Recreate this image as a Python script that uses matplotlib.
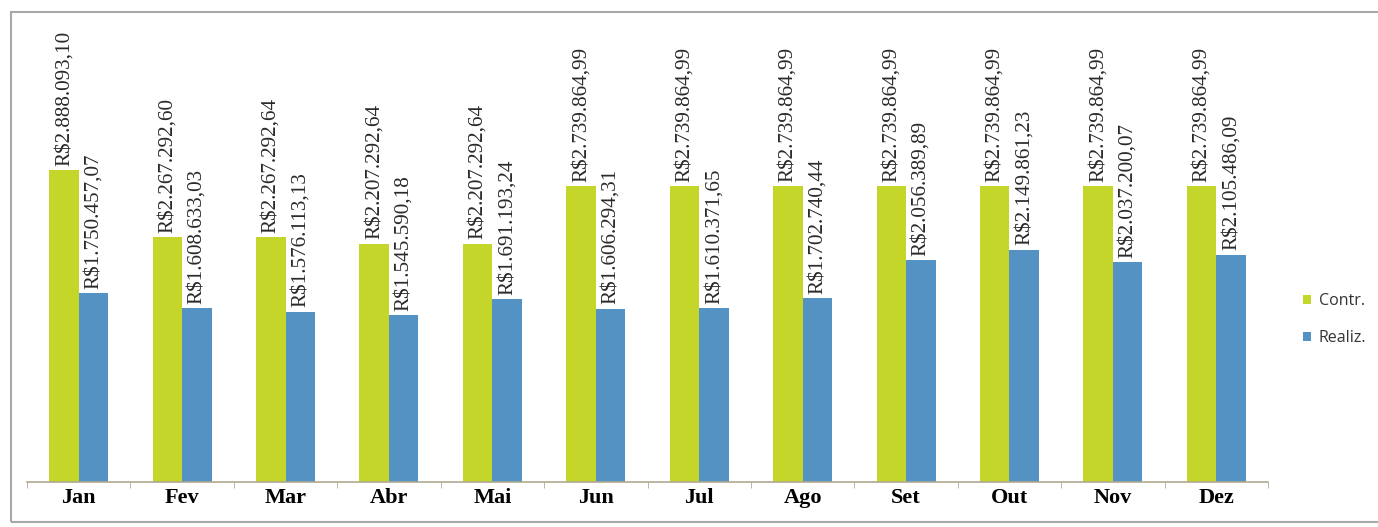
import matplotlib.pyplot as plt
from matplotlib.patches import Rectangle
import numpy as np

meses = ['Jan', 'Fev', 'Mar', 'Abr', 'Mai', 'Jun', 'Jul', 'Ago', 'Set', 'Out', 'Nov', 'Dez']
contr = [2888093.10, 2267292.60, 2267292.64, 2207292.64, 2207292.64, 2739864.99,
         2739864.99, 2739864.99, 2739864.99, 2739864.99, 2739864.99, 2739864.99]
realiz = [1750457.07, 1608633.03, 1576113.13, 1545590.18, 1691193.24, 1606294.31,
          1610371.65, 1702740.44, 2056389.89, 2149861.23, 2037200.07, 2105486.09]


def brl(v):
  s = f'{v:,.2f}'
  s = s.replace(',', 'X').replace('.', ',').replace('X', '.')
  return 'R$' + s


fig = plt.figure(figsize=(13.78, 5.27), dpi=100)
fig.patches.append(Rectangle((11 / 1378, 5 / 527), 1.0, 510 / 527, transform=fig.transFigure,
                             fill=False, edgecolor='#a8a8a8', linewidth=1.5))

ax = fig.add_axes([27 / 1378, 45 / 527, 1241 / 1378, 462 / 527])
x = np.arange(len(meses))
w = 0.285
verde = '#c5d62b'
azul = '#5592c4'
b1 = ax.bar(x - w / 2, contr, w, color=verde, label='Contr.')
b2 = ax.bar(x + w / 2, realiz, w, color=azul, label='Realiz.')

for rects, vals in ((b1, contr), (b2, realiz)):
  for r, v in zip(rects, vals):
    ax.text(r.get_x() + r.get_width() / 2, v + 40000, brl(v), rotation=90,
            ha='center', va='bottom', family='Liberation Serif', fontsize=15.2, color='#2a2a2a')

ax.set_xlim(-0.5, len(meses) - 0.5)
ax.set_ylim(0, 462 / 108 * 1e6)
ax.set_xticks(x)
ax.set_xticklabels(meses, family='Liberation Serif', fontweight='bold', fontsize=16)
ax.set_xticks(np.arange(len(meses) + 1) - 0.5, minor=True)
ax.tick_params(axis='x', which='major', length=0, pad=4)
ax.tick_params(axis='x', which='minor', length=4, color='#b0a890', direction='out')
ax.set_yticks([])
for s in ('top', 'right', 'left'):
  ax.spines[s].set_visible(False)
ax.spines['bottom'].set_color('#b0a890')
ax.spines['bottom'].set_linewidth(1.2)

leg = ax.legend(loc='center left', bbox_to_anchor=(1.017, 0.352), frameon=False,
                handlelength=0.5, handleheight=0.5, handletextpad=0.45, labelspacing=1.3,
                prop={'family': 'Open Sans', 'size': 11.5})
for t in leg.get_texts():
  t.set_color('#333333')

fig.savefig('out.png', dpi=100)
